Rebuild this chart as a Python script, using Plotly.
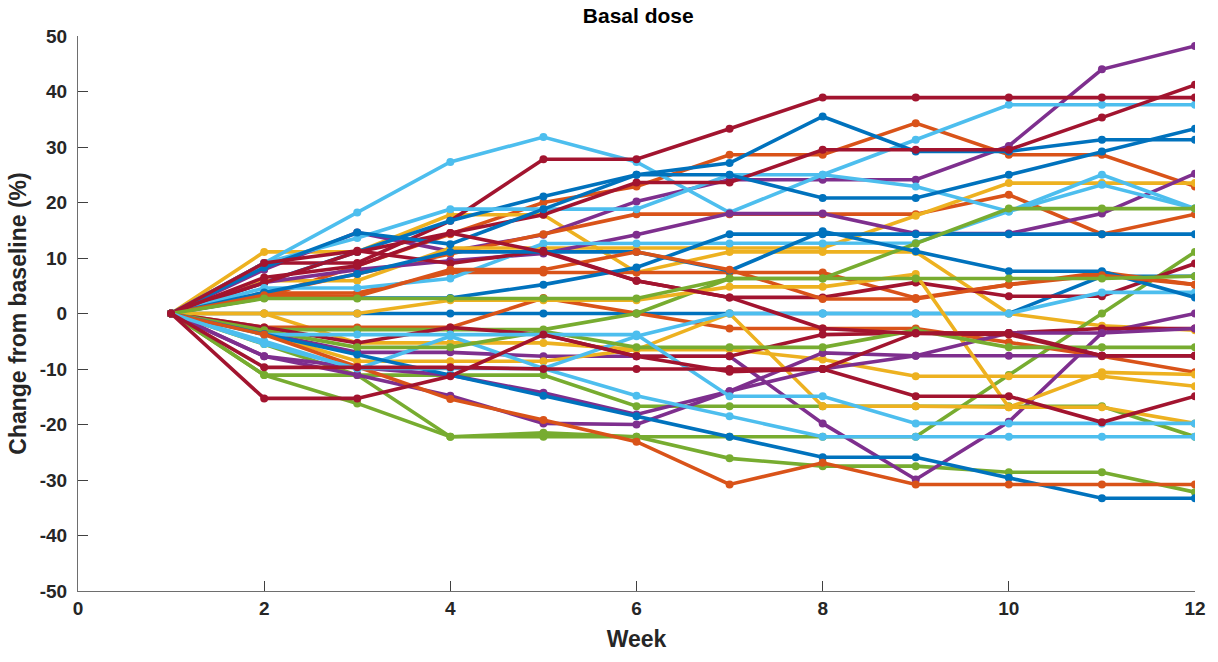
import plotly.graph_objects as go

weeks = [1, 2, 3, 4, 5, 6, 7, 8, 9, 10, 11, 12]

blue_series = [
    [0, 0, 0, 0, 0, 0, 0, 0, 0, 0, 6.7, 6.7],
    [0, 5.6, 11.1, 16.7, 21.1, 25, 27.1, 35.5, 29.2, 29.2, 31.3, 31.3],
    [0, 8.3, 14.6, 12.5, 18.8, 25, 25, 20.8, 20.8, 25, 29.2, 33.3],
    [0, 2.8, 2.8, 2.8, 5.2, 8.3, 14.3, 14.3, 14.3, 14.3, 14.3, 14.3],
    [0, 3.8, 7.1, 11.1, 11.1, 11.1, 7.7, 14.8, 11.2, 7.6, 7.6, 2.9],
    [0, -3.7, -7.4, -11.1, -14.8, -18.5, -22.2, -25.9, -25.9, -29.6, -33.3, -33.3],
]
orange_series = [
    [0, 2.9, 8.6, 14.3, 20, 22.9, 28.6, 28.6, 34.3, 28.6, 28.6, 22.9],
    [0, 3.6, 7.1, 10.7, 14.3, 17.9, 17.9, 17.9, 17.9, 21.4, 14.3, 17.9],
    [0, 3.7, 3.7, 7.4, 7.4, 7.4, 7.4, 7.4, 2.8, 5.2, 7.4, 5.2],
    [0, -2.5, -2.5, -2.5, 2.8, 0, -2.7, -2.7, -2.7, -5.2, -7.7, -10.6],
    [0, 3.3, 3.1, 7.9, 7.9, 11.1, 7.9, 2.6, 2.6, 5.2, 6.9, 5.2],
    [0, -3.8, -9.6, -15.4, -19.2, -23.1, -30.8, -26.9, -30.8, -30.8, -30.8, -30.8],
]
yellow_series = [
    [0, 11.1, 11.1, 17.8, 17.8, 7.4, 11.1, 11.1, 11.1, 0, -2.2, -3],
    [0, 5.9, 5.9, 11.8, 11.8, 11.8, 11.8, 11.8, 17.6, 23.5, 23.5, 23.5],
    [0, 0, -5.3, -5.3, -5.3, -6.5, -6.5, -8.3, -11.3, -11.3, -11.3, -13.1],
    [0, -3.6, -8.6, -8.6, -8.6, -6.5, 0, -16.7, -16.7, -16.9, -16.9, -19.8],
    [0, 0, 0, 2.4, 2.4, 2.4, 4.8, 4.8, 7.1, -16.9, -10.6, -11],
]
purple_series = [
    [0, 7.9, 14.6, 11.2, 14.2, 20.2, 24.1, 24.1, 24.1, 30.2, 44, 48.2],
    [0, 5.6, 7.9, 9.5, 10.8, 14.2, 18, 18, 14.4, 14.4, 18, 25.2],
    [0, -3.5, -7, -7, -7.7, -7.7, -7.7, -19.8, -29.9, -19.5, -3.5, 0],
    [0, -7.7, -9.7, -11.1, -14.3, -18.2, -14, -7.1, -7.6, -7.6, -7.6, -7.6],
    [0, -7.7, -11.1, -14.8, -19.8, -20, -14, -10, -7.6, -3.5, -3.5, -2.7],
]
green_series = [
    [0, -5.5, -11.1, -22.2, -22.2, -22.2, -22.2, -22.2, -22.2, -11.1, 0, 11.1],
    [0, -11.1, -16.2, -22.2, -21.5, -22.2, -26.1, -27.5, -27.5, -28.6, -28.6, -32.2],
    [0, -11.1, -11.1, -11.1, -11.1, -16.7, -16.7, -16.7, -16.7, -16.7, -16.7, -22.2],
    [0, -2.9, -2.9, -2.9, -2.9, 0, 6.3, 6.3, 12.6, 18.9, 18.9, 18.9],
    [0, -3, -6.1, -6.1, -3.2, -6.1, -6.1, -6.1, -3, -6.1, -6.1, -6.1],
    [0, 2.7, 2.7, 2.7, 2.7, 2.7, 6.3, 6.3, 6.3, 6.3, 6.3, 6.7],
]
lightblue_series = [
    [0, 9.1, 18.2, 27.3, 31.8, 27.3, 18.2, 25, 31.3, 37.6, 37.6, 37.6],
    [0, 9.1, 13.6, 18.8, 18.8, 18.8, 25, 25, 22.9, 18.4, 25, 18.9],
    [0, 4.6, 4.6, 6.3, 12.6, 12.6, 12.6, 12.6, 12.7, 18.4, 23.2, 18.9],
    [0, -5, -10, -4.1, -9.9, -4.1, 0, 0, 0, 0, 3.8, 3.8],
    [0, -3.8, -3.8, -3.8, -3.8, -3.8, -14.9, -14.9, -19.8, -19.8, -19.8, -19.8],
    [0, -5.5, -9.9, -9.9, -9.9, -14.8, -18.5, -22.2, -22.2, -22.2, -22.2, -22.2],
]
red_series = [
    [0, 9.1, 9.1, 16.7, 27.8, 27.8, 33.3, 38.9, 38.9, 38.9, 38.9, 38.9],
    [0, 5.6, 11.1, 14.5, 17.8, 23.6, 23.6, 29.5, 29.5, 29.5, 35.3, 41.2],
    [0, 9.1, 11.3, 9, 11.3, 5.9, 2.9, 2.9, 5.6, 3.1, 3.1, 9],
    [0, -2.5, -5.3, -2.5, -3.8, -7.7, -7.7, -3.8, -3.5, -3.5, -2.7, -2.7],
    [0, 6.5, 8.6, 14.5, 11.1, 5.9, 2.9, -2.7, -3.6, -3.8, -7.6, -7.6],
    [0, -15.3, -15.3, -11.3, -3.8, -7.7, -10.5, -10, -14.9, -14.9, -19.6, -14.9],
    [0, -9.7, -9.7, -9.7, -10, -10, -10, -10, -3.5, -3.5, -7.6, -7.6],
]

x_ticks = [0, 2, 4, 6, 8, 10, 12]
y_ticks = [-50, -40, -30, -20, -10, 0, 10, 20, 30, 40, 50]

groups = [
    ("#0072BD", blue_series),
    ("#D95319", orange_series),
    ("#EDB120", yellow_series),
    ("#7E2F8E", purple_series),
    ("#77AC30", green_series),
    ("#4DBEEE", lightblue_series),
    ("#A2142F", red_series),
]

FONT = "Liberation Sans, Arial, sans-serif"

fig = go.Figure()
maxn = max(len(s) for _, s in groups)
for i in range(maxn):
    for color, series in groups:
        if i < len(series):
            fig.add_trace(go.Scatter(
                x=weeks, y=series[i], mode="lines+markers",
                line=dict(color=color, width=3.6),
                marker=dict(color=color, size=8),
                showlegend=False, hoverinfo="skip",
            ))

axis_common = dict(
    showgrid=False, zeroline=False, showline=True, linecolor="#6e6e6e", linewidth=1.2,
    ticks="inside", ticklen=10, tickcolor="#404040", tickwidth=1,
    tickfont=dict(family=FONT, size=19, color="#262626"),
)

fig.update_layout(
    width=1218, height=662,
    margin=dict(l=78, r=21, t=36, b=71),
    paper_bgcolor="white", plot_bgcolor="white",
    title=dict(text="<b>Basal dose</b>", x=0.524, xanchor="center", y=0.988, yanchor="top",
               font=dict(family=FONT, size=21, color="#000000")),
    xaxis=dict(range=[0, 12], tickvals=x_ticks, ticktext=[f"<b>{v}</b>" for v in x_ticks],
               title=dict(text="<b>Week</b>", standoff=12,
                          font=dict(family=FONT, size=23, color="#262626")),
               **axis_common),
    yaxis=dict(range=[-50, 50], tickvals=y_ticks, ticktext=[f"<b>{v}</b>" for v in y_ticks],
               ticklabelstandoff=6,
               title=dict(text="<b>Change from baseline (%)</b>", standoff=6,
                          font=dict(family=FONT, size=23, color="#262626")),
               **axis_common),
)

fig.write_html("out.html")
